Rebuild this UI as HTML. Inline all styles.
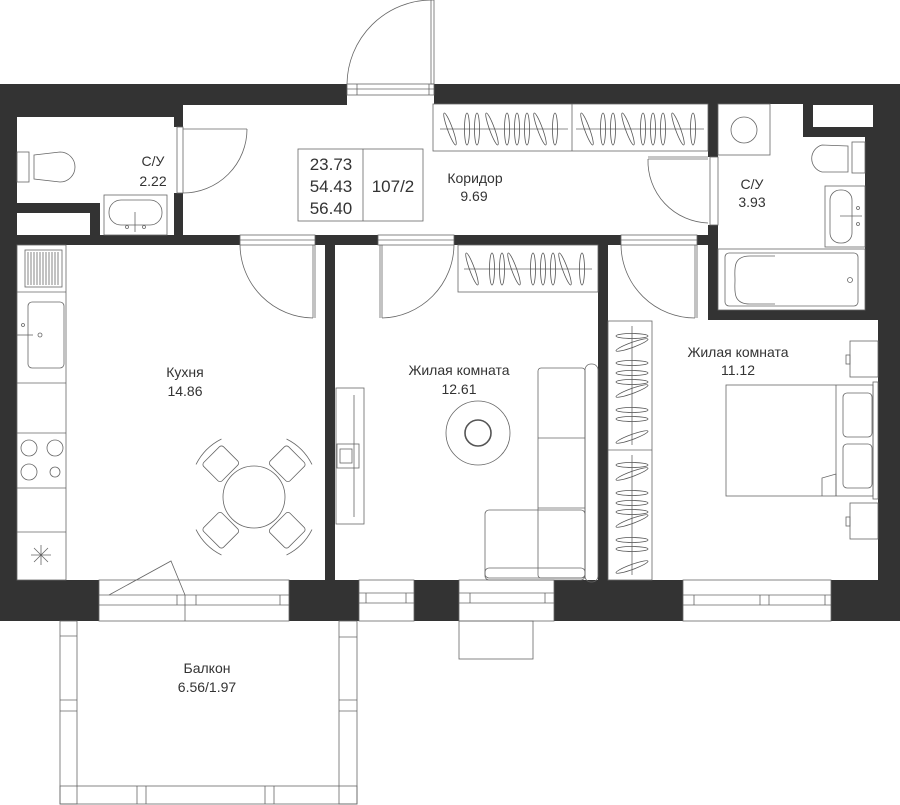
<!DOCTYPE html>
<html><head><meta charset="utf-8"><style>
html,body{margin:0;padding:0;background:#fff}
svg{display:block}
text{font-family:"Liberation Sans","DejaVu Sans",sans-serif;fill:#333;text-anchor:middle}
</style></head><body>
<svg width="900" height="805" viewBox="0 0 900 805" xmlns="http://www.w3.org/2000/svg">
<defs>
<g id="hv"><ellipse cx="0" cy="0" rx="2.5" ry="16" fill="none" stroke="#555" stroke-width="0.8"/></g>
<g id="hd"><ellipse cx="0" cy="0" rx="2.5" ry="17" fill="none" stroke="#555" stroke-width="0.8" transform="rotate(-20)"/></g>
<g id="hh"><ellipse cx="0" cy="0" rx="16" ry="2.5" fill="none" stroke="#555" stroke-width="0.8"/></g>
<g id="hr"><ellipse cx="0" cy="0" rx="17" ry="2.5" fill="none" stroke="#555" stroke-width="0.8" transform="rotate(-20)"/></g>
</defs>
<g fill="#333">
<rect x="0" y="84" width="347" height="21"/>
<rect x="0" y="84" width="183" height="33"/>
<rect x="434" y="84" width="466" height="20"/>
<rect x="0" y="84" width="17" height="537"/>
<rect x="878" y="84" width="22" height="537"/>
<rect x="803" y="104" width="75" height="33"/>
<rect x="865" y="104" width="13" height="216"/>
<rect x="174" y="105" width="9" height="22"/>
<rect x="174" y="193" width="9" height="45"/>
<rect x="17" y="203" width="83" height="10"/>
<rect x="90" y="203" width="10" height="35"/>
<rect x="0" y="235" width="240" height="10"/>
<rect x="315" y="235" width="63" height="10"/>
<rect x="325" y="235" width="10" height="350"/>
<rect x="454" y="235" width="167" height="10"/>
<rect x="598" y="235" width="10" height="350"/>
<rect x="697" y="235" width="21" height="10"/>
<rect x="708" y="104" width="10" height="53"/>
<rect x="708" y="225" width="10" height="95"/>
<rect x="708" y="310" width="170" height="10"/>
<rect x="0" y="580" width="99" height="41"/>
<rect x="289" y="580" width="70" height="41"/>
<rect x="414" y="580" width="45" height="41"/>
<rect x="554" y="580" width="129" height="41"/>
<rect x="831" y="580" width="69" height="41"/>
</g>
<rect x="813" y="105" width="60" height="22" fill="#fff"/>
<g fill="none" stroke="#666" stroke-width="0.8">
<rect x="347" y="84" width="87" height="11"/><line x1="347" y1="89" x2="434" y2="89"/>
<line x1="357" y1="84" x2="357" y2="95"/><line x1="429" y1="84" x2="429" y2="95"/>
<rect x="431" y="0" width="3" height="84"/>
<path d="M347,84 A85,85 0 0 1 432,0"/>
<rect x="177" y="127" width="6" height="66"/><line x1="183" y1="129" x2="247" y2="129"/>
<path d="M247,129 A64,64 0 0 1 183,193"/>
<rect x="240" y="235" width="75" height="10"/><line x1="240" y1="240" x2="315" y2="240"/>
<line x1="313" y1="245" x2="313" y2="318"/><line x1="315" y1="245" x2="315" y2="318"/>
<path d="M240,245 A74,74 0 0 0 313,318"/>
<rect x="378" y="235" width="76" height="10"/><line x1="378" y1="240" x2="454" y2="240"/>
<line x1="380" y1="245" x2="380" y2="318"/><line x1="382" y1="245" x2="382" y2="318"/>
<path d="M454,245 A74,74 0 0 1 382,318"/>
<rect x="621" y="235" width="76" height="10"/><line x1="621" y1="240" x2="697" y2="240"/>
<line x1="695" y1="245" x2="695" y2="318"/><line x1="697" y1="245" x2="697" y2="318"/>
<path d="M621,245 A74,74 0 0 0 695,318"/>
<rect x="710" y="157" width="8" height="68"/>
<line x1="648" y1="157" x2="708" y2="157"/><line x1="648" y1="159" x2="708" y2="159"/>
<path d="M648,159 A62,62 0 0 0 708,223"/>
<rect x="298" y="149" width="125" height="72"/><line x1="363" y1="149" x2="363" y2="221"/>
<rect x="433" y="104" width="275" height="47"/><line x1="572" y1="104" x2="572" y2="151"/>
<line x1="440" y1="129" x2="568" y2="129"/><line x1="576" y1="129" x2="704" y2="129"/>
<rect x="458" y="245" width="140" height="47"/><line x1="464" y1="269" x2="592" y2="269"/>
<rect x="608" y="321" width="44" height="259"/><line x1="608" y1="450" x2="652" y2="450"/>
<line x1="632" y1="326" x2="632" y2="445"/><line x1="632" y1="455" x2="632" y2="575"/>
<rect x="17" y="152" width="12" height="30"/>
<path d="M34,155 L60,152 A15,15 0 0 1 60,182 L34,179 Z"/>
<rect x="104" y="195" width="63" height="40"/>
<rect x="109" y="200" width="53" height="25" rx="12"/>
<line x1="135" y1="212" x2="135" y2="232"/><circle cx="127" cy="227" r="1.5"/><circle cx="144" cy="227" r="1.5"/>
<rect x="718" y="104" width="52" height="51"/><circle cx="744" cy="130" r="13"/>
<rect x="852" y="142" width="13" height="31"/>
<path d="M848,146 L822,145 A14,14 0 0 0 822,172 L848,172 Z"/>
<rect x="825" y="186" width="40" height="61"/>
<rect x="830" y="190" width="22" height="53" rx="10"/>
<line x1="840" y1="216" x2="862" y2="216"/><circle cx="858" cy="208" r="1.5"/><circle cx="858" cy="224" r="1.5"/>
<rect x="718" y="249" width="147" height="61"/>
<rect x="725" y="253" width="133" height="53" rx="4"/>
<path d="M775,256 L750,256 C732,256 735,270 735,280 C735,290 732,304 750,304 L775,304"/>
<circle cx="850" cy="280" r="2.5"/>
<rect x="17" y="245" width="49" height="335"/>
<line x1="17" y1="292" x2="66" y2="292"/><line x1="17" y1="383" x2="66" y2="383"/>
<line x1="17" y1="433" x2="66" y2="433"/><line x1="17" y1="488" x2="66" y2="488"/><line x1="17" y1="532" x2="66" y2="532"/>
<rect x="25" y="250" width="37" height="37"/>
<path d="M28,252V285M31,252V285M34,252V285M37,252V285M40,252V285M43,252V285M46,252V285M49,252V285M52,252V285M55,252V285M58,252V285"/>
<rect x="28" y="302" width="36" height="66" rx="4"/>
<line x1="17" y1="335" x2="33" y2="335"/><circle cx="23" cy="325" r="1.5"/><circle cx="40" cy="335" r="2"/>
<circle cx="29" cy="448" r="8"/><circle cx="55" cy="448" r="8"/><circle cx="29" cy="472" r="8"/><circle cx="55" cy="472" r="5"/>
<path d="M41,545 V565 M31,555 H51 M34,548 L48,562 M48,548 L34,562"/>
<circle cx="254" cy="497" r="31"/>
<g transform="translate(254,497)">
<g transform="rotate(-45)"><rect x="-14" y="-60" width="28" height="26" rx="3"/><path d="M-18,-64 Q0,-70 18,-64"/></g>
<g transform="rotate(45)"><rect x="-14" y="-60" width="28" height="26" rx="3"/><path d="M-18,-64 Q0,-70 18,-64"/></g>
<g transform="rotate(135)"><rect x="-14" y="-60" width="28" height="26" rx="3"/><path d="M-18,-64 Q0,-70 18,-64"/></g>
<g transform="rotate(225)"><rect x="-14" y="-60" width="28" height="26" rx="3"/><path d="M-18,-64 Q0,-70 18,-64"/></g>
</g>
<path d="M109,595 L171,561 L185,595"/><line x1="185" y1="595" x2="185" y2="621"/>
<rect x="336" y="388" width="28" height="136"/>
<line x1="354" y1="395" x2="354" y2="517"/><rect x="337" y="444" width="22" height="24"/><rect x="340" y="449" width="12" height="14"/>
<ellipse cx="478" cy="433" rx="32" ry="32"/><circle cx="478" cy="433" r="13" stroke-width="1.6" stroke="#555"/>
<rect x="538" y="368" width="47" height="210" rx="3"/>
<line x1="538" y1="438" x2="585" y2="438"/><line x1="538" y1="508" x2="585" y2="508"/>
<rect x="485" y="510" width="100" height="68" rx="4"/>
<rect x="485" y="568" width="100" height="12" rx="4"/>
<rect x="585" y="364" width="13" height="218" rx="6"/>
<rect x="726" y="385" width="147" height="111"/><line x1="836" y1="385" x2="836" y2="496"/>
<rect x="843" y="393" width="29" height="44" rx="4"/><rect x="843" y="444" width="29" height="44" rx="4"/>
<rect x="873" y="382" width="5" height="117"/>
<path d="M822,496 L822,478 L836,474 L836,496"/>
<rect x="850" y="341" width="28" height="36"/><rect x="846" y="355" width="4" height="9"/>
<rect x="850" y="503" width="28" height="36"/><rect x="846" y="517" width="4" height="9"/>
<g>
<rect x="99" y="580" width="190" height="41"/><line x1="99" y1="595" x2="289" y2="595"/><line x1="99" y1="605" x2="289" y2="605"/>
<line x1="177" y1="595" x2="177" y2="605"/><line x1="196" y1="595" x2="196" y2="605"/><line x1="280" y1="595" x2="280" y2="605"/>
<rect x="359" y="580" width="55" height="41"/><line x1="359" y1="593" x2="414" y2="593"/><line x1="359" y1="603" x2="414" y2="603"/>
<line x1="366" y1="593" x2="366" y2="603"/><line x1="406" y1="593" x2="406" y2="603"/>
<rect x="459" y="580" width="95" height="41"/><line x1="459" y1="593" x2="554" y2="593"/><line x1="459" y1="603" x2="554" y2="603"/>
<line x1="470" y1="593" x2="470" y2="603"/><line x1="545" y1="593" x2="545" y2="603"/>
<rect x="683" y="580" width="148" height="41"/><line x1="683" y1="595" x2="831" y2="595"/><line x1="683" y1="605" x2="831" y2="605"/>
<line x1="694" y1="595" x2="694" y2="605"/><line x1="760" y1="595" x2="760" y2="605"/><line x1="769" y1="595" x2="769" y2="605"/><line x1="825" y1="595" x2="825" y2="605"/>
</g>
<rect x="60" y="621" width="17" height="183"/><rect x="339" y="621" width="18" height="183"/>
<line x1="60" y1="636" x2="77" y2="636"/><line x1="60" y1="700" x2="77" y2="700"/><line x1="60" y1="711" x2="77" y2="711"/>
<line x1="339" y1="637" x2="357" y2="637"/><line x1="339" y1="700" x2="357" y2="700"/><line x1="339" y1="711" x2="357" y2="711"/>
<rect x="60" y="786" width="297" height="18"/>
<line x1="137" y1="786" x2="137" y2="804"/><line x1="146" y1="786" x2="146" y2="804"/>
<line x1="265" y1="786" x2="265" y2="804"/><line x1="274" y1="786" x2="274" y2="804"/>
<rect x="459" y="621" width="74" height="38"/>
</g>
<g>
<use href="#hd" x="450" y="129"/><use href="#hv" x="467" y="129"/><use href="#hv" x="477" y="129"/><use href="#hd" x="492" y="129"/><use href="#hv" x="507" y="129"/><use href="#hv" x="517" y="129"/><use href="#hv" x="527" y="129"/><use href="#hd" x="540" y="129"/><use href="#hv" x="555" y="129"/>
<use href="#hd" x="587" y="129"/><use href="#hv" x="603" y="129"/><use href="#hv" x="613" y="129"/><use href="#hd" x="628" y="129"/><use href="#hv" x="643" y="129"/><use href="#hv" x="653" y="129"/><use href="#hv" x="663" y="129"/><use href="#hd" x="678" y="129"/><use href="#hv" x="693" y="129"/>
<use href="#hd" x="472" y="269"/><use href="#hv" x="492" y="269"/><use href="#hv" x="502" y="269"/><use href="#hd" x="514" y="269"/><use href="#hv" x="533" y="269"/><use href="#hv" x="543" y="269"/><use href="#hv" x="553" y="269"/><use href="#hd" x="565" y="269"/><use href="#hv" x="582" y="269"/>
<use href="#hh" x="632" y="336"/><use href="#hr" x="632" y="345"/><use href="#hh" x="632" y="363"/><use href="#hh" x="632" y="373"/><use href="#hh" x="632" y="382"/><use href="#hr" x="632" y="391"/><use href="#hh" x="632" y="410"/><use href="#hh" x="632" y="419"/><use href="#hr" x="632" y="437"/>
<use href="#hh" x="632" y="465"/><use href="#hr" x="632" y="474"/><use href="#hh" x="632" y="493"/><use href="#hh" x="632" y="503"/><use href="#hh" x="632" y="512"/><use href="#hr" x="632" y="521"/><use href="#hh" x="632" y="540"/><use href="#hh" x="632" y="549"/><use href="#hr" x="632" y="567"/>
</g>
<g font-size="14">
<text x="153" y="166">С/У</text><text x="153" y="186">2.22</text>
<text x="475" y="183">Коридор</text><text x="474" y="201">9.69</text>
<text x="752" y="189">С/У</text><text x="752" y="207">3.93</text>
<text x="185" y="377">Кухня</text><text x="185" y="396">14.86</text>
<text x="459" y="375">Жилая комната</text><text x="459" y="394">12.61</text>
<text x="738" y="357">Жилая комната</text><text x="738" y="375">11.12</text>
<text x="207" y="673">Балкон</text><text x="207" y="692">6.56/1.97</text>
</g>
<g font-size="17">
<text x="331" y="170">23.73</text><text x="331" y="192">54.43</text><text x="331" y="214">56.40</text>
<text x="393" y="192">107/2</text>
</g>
</svg>
</body></html>
